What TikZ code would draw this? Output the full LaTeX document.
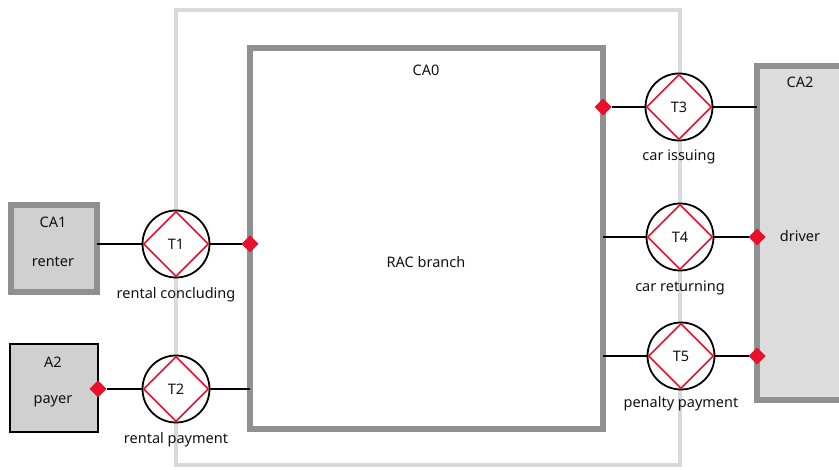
\documentclass[tikz,border=0pt]{standalone}
\usepackage{fontspec}
\setmainfont{Noto Sans}
\usetikzlibrary{shapes.geometric}
\definecolor{boxgray}{HTML}{909090}
\definecolor{outergray}{HTML}{D9D9D9}
\definecolor{fillgray}{HTML}{D0D0D0}
\definecolor{fillgraylt}{HTML}{DCDCDC}
\definecolor{dred}{HTML}{E8102A}
\definecolor{txtcol}{HTML}{111111}
\begin{document}
\begin{tikzpicture}[x=1pt,y=-1pt,
  font=\fontsize{14.5}{17}\selectfont,
  every node/.style={text=txtcol},
  outerbox/.style={rectangle, draw=outergray, line width=4pt, inner sep=0, outer sep=0},
  compbox/.style={rectangle, draw=boxgray, line width=5.5pt, inner sep=0, outer sep=0},
  actorbox/.style={rectangle, draw=black, line width=2pt, fill=fillgray, inner sep=0, outer sep=0},
  transaction/.style={circle, draw=black, line width=1.8pt, fill=white, minimum size=67pt, inner sep=0, outer sep=0},
  txdiamond/.style={diamond, draw=dred, line width=1.6pt, minimum width=65pt, minimum height=65pt, inner sep=0, aspect=1},
  marker/.style={diamond, fill=dred, minimum width=17pt, minimum height=17pt, inner sep=0, outer sep=0},
  link/.style={draw=black, line width=1.8pt},
  txt/.style={inner sep=0}
]
\useasboundingbox (0,0) rectangle (839,470);
\clip (0,0) rectangle (839,470);

% outer light frame
\node[outerbox, minimum width=504pt, minimum height=455pt] (outer) at (428,237.5) {};
% CA0
\node[compbox, minimum width=353pt, minimum height=381pt] (CA0) at (426.5,238.5) {};
\node[txt] (CA0t) at (426,70) {CA0};
\node[txt] (CA0r) at (426,262) {RAC branch};
% CA1
\node[compbox, line width=6pt, fill=fillgray, minimum width=86pt, minimum height=87pt] (CA1) at (53.5,249) {};
\node[txt] (CA1t) at (53,222) {CA1};
\node[txt] (CA1r) at (53,262) {renter};
% A2
\node[actorbox, minimum width=88pt, minimum height=88pt] (A2) at (54,388) {};
\node[txt] (A2t) at (53,362) {A2};
\node[txt] (A2r) at (53,401) {payer};
% CA2
\node[compbox, fill=fillgraylt, minimum width=103pt, minimum height=334pt] (CA2) at (808.5,233) {};
\node[txt] (CA2t) at (800,82) {CA2};
\node[txt] (CA2r) at (800,236) {driver};

% transactions
\node[transaction] (T1) at (176,244) {};
\node[txdiamond] (D1) at (T1) {T1};
\node[txt] (L1) at (176,295) {rental concluding};

\node[transaction] (T2) at (176,389) {};
\node[txdiamond] (D2) at (T2) {T2};
\node[txt] (L2) at (176,440) {rental payment};

\node[transaction] (T3) at (679,107) {};
\node[txdiamond] (D3) at (T3) {T3};
\node[txt] (L3) at (679,157) {car issuing};

\node[transaction] (T4) at (680,237) {};
\node[txdiamond] (D4) at (T4) {T4};
\node[txt] (L4) at (680,288) {car returning};

\node[transaction] (T5) at (681,356) {};
\node[txdiamond] (D5) at (T5) {T5};
\node[txt] (L5) at (681,404) {penalty payment};

% markers
\node[marker] (m1) at (T1 -| CA0.west) {};
\node[marker] (m2) at (T2 -| A2.east) {};
\node[marker] (m3) at (T3 -| CA0.east) {};
\node[marker] (m4) at (T4 -| CA2.west) {};
\node[marker] (m5) at (T5 -| CA2.west) {};

\coordinate (c1) at (T1 -| CA1.east);
\coordinate (c2) at (T2 -| CA0.west);
\coordinate (c3) at (T3 -| CA2.west);
\coordinate (c4) at (T4 -| CA0.east);
\coordinate (c5) at (T5 -| CA0.east);

% connectors
\draw[link] (c1) -- (T1);
\draw[link] (T1) -- (m1);
\draw[link] (m2) -- (T2);
\draw[link] (T2) -- (c2);
\draw[link] (m3) -- (T3);
\draw[link] (T3) -- (c3);
\draw[link] (c4) -- (T4);
\draw[link] (T4) -- (m4);
\draw[link] (c5) -- (T5);
\draw[link] (T5) -- (m5);
\end{tikzpicture}
\end{document}
